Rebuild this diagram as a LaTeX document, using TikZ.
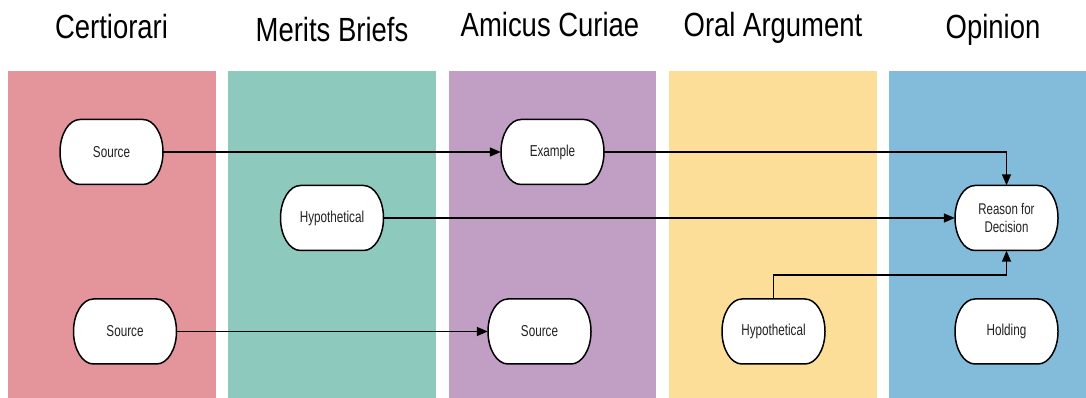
\documentclass[tikz,border=0pt]{standalone}
\usepackage{fontspec}
\newfontfamily\titlefont{Liberation Sans}[FakeStretch=0.82]
\newfontfamily\boxfont{Liberation Sans}[FakeStretch=0.74]
\usetikzlibrary{arrows.meta}

\definecolor{laneA}{HTML}{E4949B}
\definecolor{laneB}{HTML}{8DC9BD}
\definecolor{laneC}{HTML}{C19EC4}
\definecolor{laneD}{HTML}{FCDE98}
\definecolor{laneE}{HTML}{83BBDA}
\definecolor{inkgray}{HTML}{222222}

\tikzset{
  lanetitle/.style={anchor=base, inner sep=0pt, text=black, font=\titlefont\fontsize{33.5}{38}\selectfont},
  pilltext/.style={minimum width=103pt, minimum height=65pt, inner sep=0pt, align=center,
    text=inkgray, font=\boxfont\fontsize{15.8}{17.6}\selectfont},
  pillshape/.style={draw=black, fill=white, line width=1.5pt},
  link/.style={draw=black, line width=1.5pt, -{Triangle[length=11pt,width=9pt]}},
}

% rounded terminator box: elliptical ends, then the named text node on top
\newcommand\pillbox[4]{%
  \path[pillshape] (#2-31.5,#3+32.5) -- (#2+31.5,#3+32.5)
    arc[start angle=90, end angle=0, x radius=20, y radius=32.5]
    arc[start angle=0, end angle=-90, x radius=20, y radius=32.5]
    -- (#2-31.5,#3-32.5)
    arc[start angle=270, end angle=180, x radius=20, y radius=32.5]
    arc[start angle=180, end angle=90, x radius=20, y radius=32.5] -- cycle;
  \node[pilltext] (#1) at (#2,#3) {#4};}

\begin{document}
\begin{tikzpicture}[x=1pt, y=1pt]
  \useasboundingbox[fill=white] (0,0) rectangle (1086,398);

  % swim lanes
  \fill[laneA] (8,0) rectangle (216,327);
  \fill[laneB] (228,0) rectangle (436,327);
  \fill[laneC] (449,0) rectangle (656,327);
  \fill[laneD] (669,0) rectangle (877,327);
  \fill[laneE] (889,0) rectangle (1086,327);

  % lane headings
  \node[lanetitle] (tCert) at (111.5,359.7) {Certiorari};
  \node[lanetitle] (tMerits) at (332,356.3) {Merits Briefs};
  \node[lanetitle] (tAmicus) at (550,361.3) {Amicus Curiae};
  \node[lanetitle] (tOral) at (773,361.3) {Oral Argument};
  \node[lanetitle] (tOpinion) at (993,359.7) {Opinion};

  % boxes
  \pillbox{srcA}{111.5}{246}{Source}
  \pillbox{example}{552.5}{246}{Example}
  \pillbox{hypA}{332}{180}{Hypothetical}
  \pillbox{reason}{1006.5}{180}{\fontsize{15.5}{17.6}\selectfont Reason for\\\fontsize{15.5}{17.6}\selectfont Decision}
  \pillbox{srcB}{125}{66.5}{Source}
  \pillbox{srcC}{539.5}{66.5}{Source}
  \pillbox{hypB}{773.5}{66.5}{Hypothetical}
  \pillbox{holding}{1006.5}{66.5}{Holding}

  % connectors
  \draw[link] (srcA.east) -- (example.west);
  \draw[link] (example.east) -| (reason.north);
  \draw[link] (hypA.east) -- (reason.west);
  \draw[link] (srcB.east) -- (srcC.west);
  \coordinate (hypBturn) at ([yshift=24pt]hypB.north);
  \draw[link] (hypB.north) -- (hypBturn) -| (reason.south);
\end{tikzpicture}
\end{document}
